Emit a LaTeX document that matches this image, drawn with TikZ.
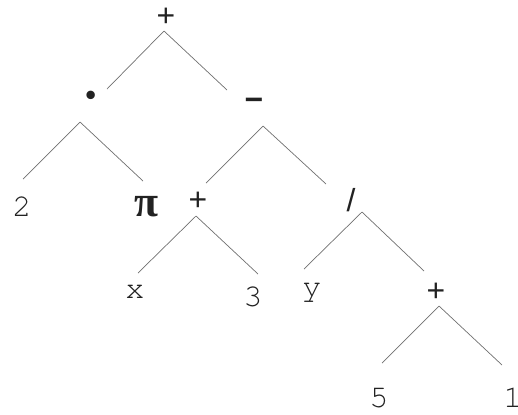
\documentclass[tikz,border=0pt]{standalone}
\usepackage{fontspec}
\setmainfont{TeX Gyre Cursor}
\newfontfamily\pifont{Liberation Serif}
\newfontfamily\opfont{Liberation Sans}
\usepackage{tikz}
\usetikzlibrary{positioning}
\definecolor{treeink}{HTML}{222222}
\definecolor{treeline}{HTML}{707070}

\begin{document}
\begin{tikzpicture}[
  x=1bp, y=-1bp,
  sym/.style={text=treeink, inner sep=0pt, font=\fontsize{32}{38}\selectfont},
  op/.style={sym, font=\fontsize{32}{38}\selectfont\opfont},
  edge/.style={treeline, line width=0.7bp}
]
\useasboundingbox (0,0) rectangle (518,414);
\node[op] (root) at (166,17) {+};
\node[sym,font=\fontsize{52}{60}\selectfont\pifont\bfseries] (dot) at (91,102) {·};
\node[op,font=\fontsize{32}{38}\selectfont\opfont\bfseries] (minus) at (254,104) {−};
\node[sym] (two) at (22,207) {2};
\node[sym,font=\fontsize{44}{50}\selectfont] (pi) at (147,207) {\pifont\bfseries π};
\node[op] (sum) at (198,201) {+};
\node[op] (slash) at (351,200) {/};
\node[sym] (x) at (135,292) {x};
\node[sym] (three) at (253,297) {3};
\node[sym] (y) at (312,293) {y};
\node[op] (inner) at (436,292) {+};
\node[sym] (five) at (379,398) {5};
\node[sym] (one) at (513,398) {1};
\draw[edge] ([shift={(-2,14)}]root.center) -- ([shift={(16,-13)}]dot.center);
\draw[edge] ([shift={(-2,14)}]root.center) -- ([shift={(-27,-14)}]minus.center);
\draw[edge] ([shift={(-11,20)}]dot.center) -- ([shift={(1,-28)}]two.center);
\draw[edge] ([shift={(-11,20)}]dot.center) -- ([shift={(-4,-26)}]pi.center);
\draw[edge] ([shift={(9,22)}]minus.center) -- ([shift={(8,-18)}]sum.center);
\draw[edge] ([shift={(9,22)}]minus.center) -- ([shift={(-25,-16)}]slash.center);
\draw[edge] ([shift={(-2,15)}]sum.center) -- ([shift={(3,-19)}]x.center);
\draw[edge] ([shift={(-2,15)}]sum.center) -- ([shift={(5,-23)}]three.center);
\draw[edge] ([shift={(11,12)}]slash.center) -- ([shift={(-8,-24)}]y.center);
\draw[edge] ([shift={(11,12)}]slash.center) -- ([shift={(-12,-21)}]inner.center);
\draw[edge] ([shift={(3,14)}]inner.center) -- ([shift={(3,-35)}]five.center);
\draw[edge] ([shift={(3,14)}]inner.center) -- ([shift={(-11,-33)}]one.center);
\end{tikzpicture}
\end{document}
